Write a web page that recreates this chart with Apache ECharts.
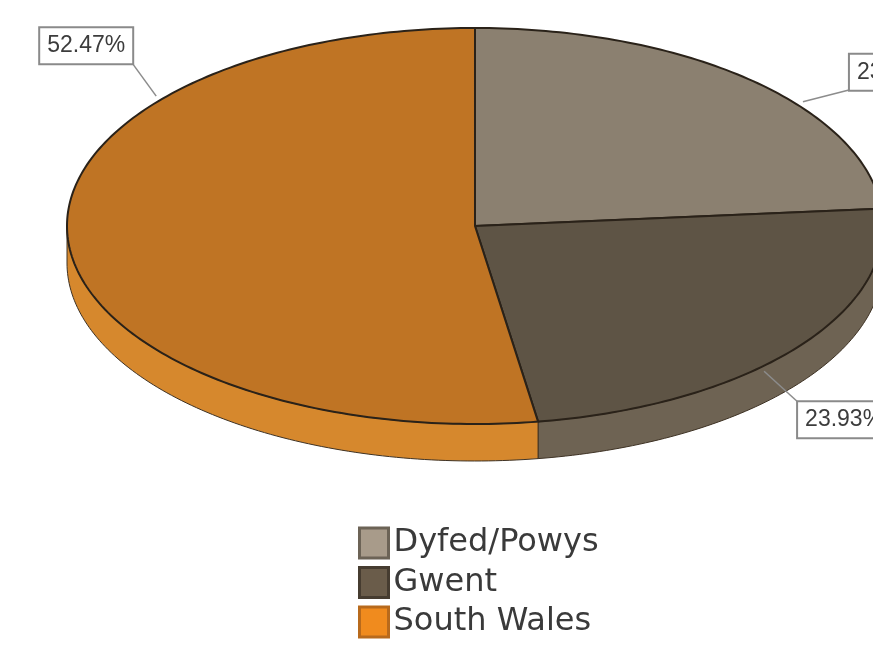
<!DOCTYPE html>
<html><head><meta charset="utf-8">
<script src="https://cdn.jsdelivr.net/npm/echarts@6/dist/echarts.min.js"></script>
<style>html,body{margin:0;padding:0;background:#fff}#c{width:873px;height:649px}</style>
</head><body><div id="c"></div>
<script>
const categories = ['Dyfed/Powys', 'Gwent', 'South Wales'];
const values = [23.6, 23.93, 52.47];

// styles
const topColors = ['#8b8070', '#5e5445', '#bf7424'];
const sideColors = ['#7d7264', '#6e6353', '#d6882d'];
const legendFill = ['#a89b8a', '#6a5c4a', '#f08b1e'];
const legendBorder = ['#6c6356', '#463c30', '#b86a1c'];
const labelLayout = [
  {angle: 52,  align: 'left',  vAlign: 'bottom', dx: 47,  dy: -12},
  {angle: 136, align: 'left',  vAlign: 'top',    dx: 34,  dy: 31},
  {angle: 310, align: 'right', vAlign: 'bottom', dx: -24, dy: -33}
];
const DEPTH = 37;
const X_VIEW_MAX = 0.9755; // pie is cropped at the right edge

const total = values.reduce((a, b) => a + b, 0);

function makeRender(i) {
  return function (params, api) {
    let acc = 0;
    for (let k = 0; k < i; k++) acc += values[k];
    const v = api.value(2);
    const a0 = acc / total * 2 * Math.PI;
    const a1 = (acc + v) / total * 2 * Math.PI;
    const P = (a, r) => api.coord([(r || 1) * Math.sin(a), (r || 1) * Math.cos(a)]);
    const arc = (s, e) => {
      const pts = [];
      const n = Math.max(4, Math.ceil((e - s) / (Math.PI / 180)));
      for (let j = 0; j <= n; j++) pts.push(P(s + (e - s) * j / n));
      return pts;
    };
    const children = [];
    const s = Math.max(a0, Math.PI / 2), e = Math.min(a1, 1.5 * Math.PI);
    if (e > s) {
      const top = arc(s, e);
      const bottom = top.map(p => [p[0], p[1] + DEPTH]).reverse();
      children.push({
        type: 'polygon',
        shape: {points: top.concat(bottom)},
        style: {fill: sideColors[i], stroke: '#3e3224', lineWidth: 1}
      });
    }
    const c = api.coord([0, 0]);
    children.push({
      type: 'polygon',
      shape: {points: [c].concat(arc(a0, a1))},
      style: {fill: topColors[i], stroke: '#2a2219', lineWidth: 2}
    });
    const L = labelLayout[i];
    const anc = P(L.angle * Math.PI / 180, 1.02);
    const tx = anc[0] + L.dx, ty = anc[1] + L.dy;
    children.push({
      type: 'line',
      shape: {x1: anc[0], y1: anc[1], x2: tx, y2: ty},
      style: {stroke: '#8c8c8c', lineWidth: 1.5}
    });
    children.push({
      type: 'text', x: tx, y: ty,
      style: {
        text: v + '%', fill: '#3c3c3c', fontSize: 23,
        fontFamily: '"Liberation Sans", Arial, sans-serif',
        align: L.align, verticalAlign: L.vAlign,
        backgroundColor: '#fff', borderColor: '#8a8a8a', borderWidth: 2,
        padding: [6, 7, 6, 7]
      }
    });
    return {type: 'group', children};
  };
}

const chart = echarts.init(document.getElementById('c'), null, {renderer: 'canvas'});
chart.setOption({
  animation: false,
  backgroundColor: '#fff',
  grid: {left: 67, top: 28, right: 0, height: 396},
  xAxis: {type: 'value', min: -1, max: X_VIEW_MAX, show: false},
  yAxis: {type: 'value', min: -1, max: 1, show: false},
  legend: {
    orient: 'vertical', left: 358, top: 524, padding: 0,
    itemWidth: 29, itemHeight: 30, itemGap: 1.5,
    icon: 'rect',
    textStyle: {fontFamily: '"DejaVu Sans", sans-serif', fontSize: 32, lineHeight: 38, color: '#3a3a3a'},
    data: categories.map((n, i) => ({name: n, itemStyle: {color: legendFill[i], borderColor: legendBorder[i], borderWidth: 3}}))
  },
  series: categories.map((n, i) => ({
    type: 'custom', name: n, coordinateSystem: 'cartesian2d', clip: false, silent: true,
    itemStyle: {color: legendFill[i]},
    data: [[0, 0, values[i]]],
    renderItem: makeRender(i)
  }))
});
</script></body></html>
